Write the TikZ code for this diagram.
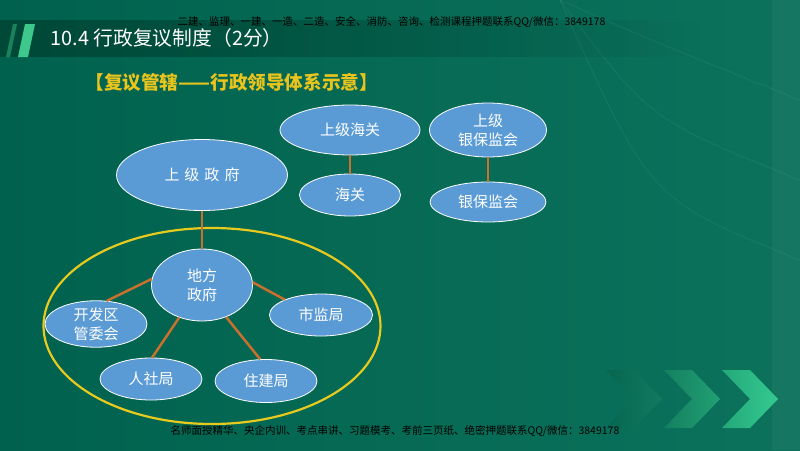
\documentclass[tikz,border=0pt]{standalone}
\usepackage{fontspec}
\setmainfont{Noto Sans CJK SC}
\usetikzlibrary{shapes.geometric,fadings}

\definecolor{bgleft}{RGB}{0,98,78}
\definecolor{bgright}{RGB}{12,114,92}
\definecolor{bandcol}{RGB}{0,72,56}
\definecolor{bubblecol}{RGB}{91,155,213}
\definecolor{linkcol}{RGB}{200,112,45}
\definecolor{ringcol}{RGB}{232,202,30}
\definecolor{headcol}{RGB}{232,196,28}
\definecolor{slashcol}{RGB}{62,200,140}

\begin{document}
\begin{tikzpicture}[x=1pt,y=-1pt,
  bubble/.style={ellipse,draw=white,line width=0.8pt,fill=bubblecol,text=white,
    inner sep=0pt,align=center,font=\fontsize{15}{19}\selectfont},
  link/.style={draw=linkcol,line width=2.5pt},
  wm/.style={anchor=west,text=black,font=\fontsize{10.5}{12}\selectfont}]
\useasboundingbox (0,0) rectangle (800,450);
% background
\shade[left color=bgleft,right color=bgright] (0,0) rectangle (800,450);
\fill[bandcol,path fading=east] (0,20) rectangle (700,57);
\fill[white,opacity=0.04] (772,0) rectangle (800,450);
\foreach \yy in {40,120,200}
  \draw[white,opacity=0.05,line width=1pt] (560,0) .. controls (650,\yy) .. (800,\yy+60);
\fill[slashcol,opacity=0.45] (13,24) -- (17,24) -- (10,57) -- (6,57) -- cycle;
\fill[slashcol] (25,24) -- (35,24) -- (28,57) -- (18,57) -- cycle;
% chevrons
\shade[left color={rgb,255:red,6;green,102;blue,80},right color={rgb,255:red,18;green,122;blue,96}]
  (606,370) -- (634,370) -- (662,399) -- (634,428) -- (606,428) -- (634,399) -- cycle;
\shade[left color={rgb,255:red,20;green,128;blue,96},right color={rgb,255:red,34;green,160;blue,116}]
  (664,370) -- (692,370) -- (720,399) -- (692,428) -- (664,428) -- (692,399) -- cycle;
\shade[left color={rgb,255:red,36;green,168;blue,120},right color={rgb,255:red,52;green,202;blue,146}]
  (722,370) -- (750,370) -- (778,399) -- (750,428) -- (722,428) -- (750,399) -- cycle;

% texts
\node[wm] (wmtop) at (174,22) {二建、监理、一建、一造、二造、安全、消防、咨询、检测课程押题联系QQ/微信：3849178};
\node[wm] (wmbot) at (167,431) {名师面授精华、央企内训、考点串讲、习题模考、考前三页纸、绝密押题联系QQ/微信：3849178};
\node[anchor=west,text=white,font=\fontsize{19.8}{22}\selectfont] (ttl) at (47,38) {10.4 行政复议制度（2分）};
\node[anchor=west,text=headcol,font=\fontsize{18.6}{21}\selectfont\bfseries] (sub) at (82,82) {【复议管辖——行政领导体系示意】};

% ring
\node[ellipse,draw=ringcol,line width=2.2pt,minimum width=337pt,minimum height=196pt] (ring) at (212,326) {};

% bubbles
\node[bubble,minimum width=171pt,minimum height=71pt] (sjzf) at (202,175) {上\,\,级\,\,政\,\,府};
\node[bubble,minimum width=140pt,minimum height=50pt] (sjhg) at (350,130) {上级海关};
\node[bubble,minimum width=101pt,minimum height=42pt] (hg) at (350,195) {海关};
\node[bubble,minimum width=117pt,minimum height=54pt] (sjyb) at (488,130) {上级\\银保监会};
\node[bubble,minimum width=116pt,minimum height=40pt] (yb) at (488,202) {银保监会};
\node[bubble,minimum width=101pt,minimum height=72pt] (dfzf) at (202,285) {地方\\政府};
\node[bubble,minimum width=102pt,minimum height=41pt] (kfq) at (96,324) {开发区\\管委会};
\node[bubble,minimum width=103pt,minimum height=42pt] (sjj) at (321,315) {市监局};
\node[bubble,minimum width=102pt,minimum height=42pt] (rsj) at (151,379) {人社局};
\node[bubble,minimum width=102pt,minimum height=43pt] (zjj) at (266,381) {住建局};

% links
\draw[link] (sjzf) -- (dfzf);
\draw[link] (sjhg) -- (hg);
\draw[link] (sjyb) -- (yb);
\draw[link] (dfzf.173) -- (kfq.65);
\draw[link] (dfzf.3) -- (sjj.157);
\draw[link] (dfzf.235) -- (rsj.87);
\draw[link] (dfzf.307) -- (zjj.105);
\end{tikzpicture}
\end{document}
